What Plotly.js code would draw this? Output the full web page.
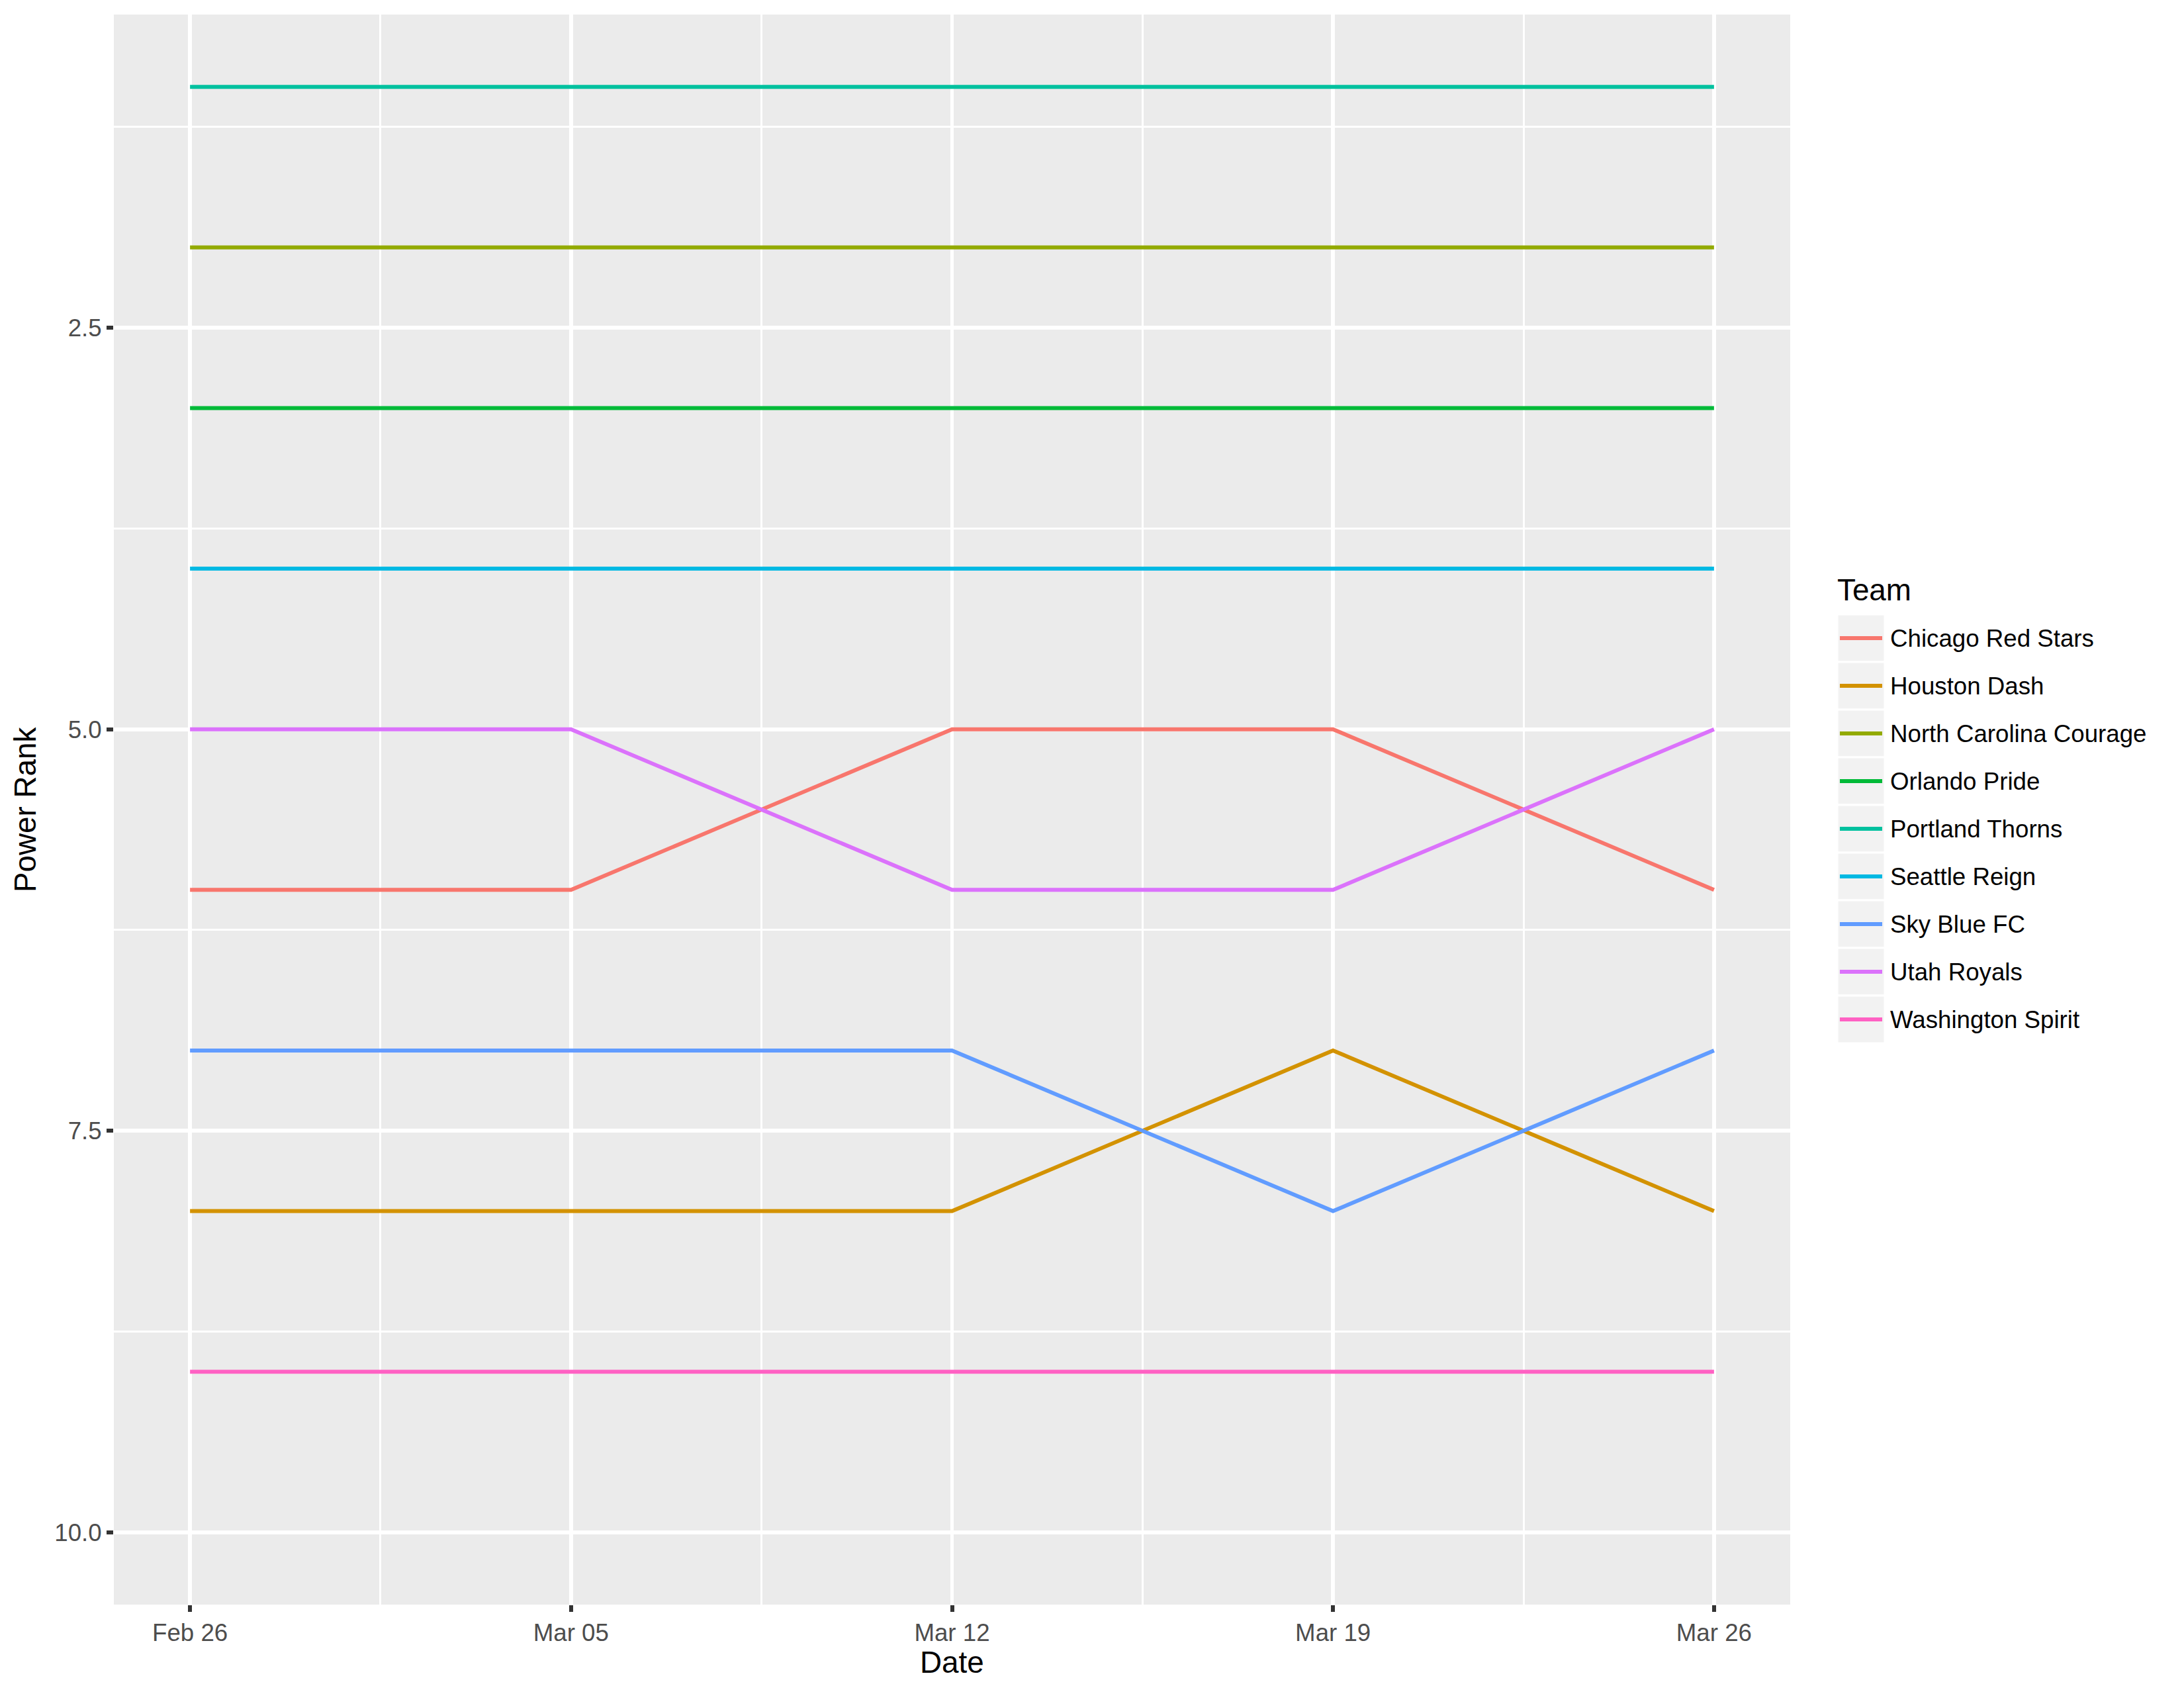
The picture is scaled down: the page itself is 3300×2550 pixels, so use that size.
<!DOCTYPE html>
<html>
<head>
<meta charset="utf-8">
<script src="https://cdn.plot.ly/plotly-3.0.1.min.js"></script>
<style>html,body{margin:0;padding:0;background:#fff;}</style>
</head>
<body>
<div id="chart" style="width:3300px;height:2550px;"></div>
<script>
// ---- data ----
const dates = ['2018-02-26', '2018-03-05', '2018-03-12', '2018-03-19', '2018-03-26'];
const dateLabels = ['Feb 26', 'Mar 05', 'Mar 12', 'Mar 19', 'Mar 26'];
const teams = ['Chicago Red Stars', 'Houston Dash', 'North Carolina Courage', 'Orlando Pride',
               'Portland Thorns', 'Seattle Reign', 'Sky Blue FC', 'Utah Royals', 'Washington Spirit'];
const chicago    = [6, 6, 5, 5, 6];
const houston    = [8, 8, 8, 7, 8];
const ncCourage  = [2, 2, 2, 2, 2];
const orlando    = [3, 3, 3, 3, 3];
const portland   = [1, 1, 1, 1, 1];
const seattle    = [4, 4, 4, 4, 4];
const skyBlue    = [7, 7, 7, 8, 7];
const utah       = [5, 5, 6, 6, 5];
const washington = [9, 9, 9, 9, 9];
const yTickVals  = [2.5, 5, 7.5, 10];
const yTickText  = ['2.5', '5.0', '7.5', '10.0'];
const colors = ['#F8766D', '#D39200', '#93AA00', '#00BA38', '#00C19F', '#00B9E3', '#619CFF', '#DB72FB', '#FF61C3'];

const seriesList = [chicago, houston, ncCourage, orlando, portland, seattle, skyBlue, utah, washington];

// ---- geometry ----
const W = 3300, H = 2550;
const L = 172, R = 595, T = 22, B = 126;
const PW = W - L - R, PH = H - T - B;
const px = x => (x - L) / PW;
const py = y => 1 - (y - T) / PH;

const FONT = 'Liberation Sans, Arial, Helvetica, sans-serif';
const LW = 5.9;

const traces = seriesList.map((ys, i) => ({
  type: 'scatter', mode: 'lines', x: dates, y: ys, name: teams[i],
  line: {color: colors[i], width: LW}, showlegend: false
}));

// minor gridline positions: midpoints between weekly ticks / y ticks
const xMinor = [];
for (let i = 0; i < dates.length - 1; i++) {
  const a = new Date(dates[i] + 'T00:00:00Z').getTime();
  const b = new Date(dates[i + 1] + 'T00:00:00Z').getTime();
  xMinor.push(new Date((a + b) / 2).toISOString().replace('T', ' ').slice(0, 19));
}
const yMinor = [];
yMinor.push(yTickVals[0] - (yTickVals[1] - yTickVals[0]) / 2);
for (let i = 0; i < yTickVals.length - 1; i++) yMinor.push((yTickVals[i] + yTickVals[i + 1]) / 2);

// x range: 5% expansion
const t0 = new Date(dates[0] + 'T00:00:00Z').getTime();
const t1 = new Date(dates[dates.length - 1] + 'T00:00:00Z').getTime();
const ex = (t1 - t0) * 0.05;
const fmt = t => new Date(t).toISOString().replace('T', ' ').slice(0, 19);

// ---- manual legend ----
const shapes = [];
const annotations = [];
const legLeft = 2776, keyW = 72, keyH = 72, legTop = 928;
annotations.push({
  xref: 'paper', yref: 'paper', x: px(legLeft - 2), y: py(892), text: 'Team',
  showarrow: false, xanchor: 'left', yanchor: 'middle',
  font: {family: FONT, size: 45.8, color: '#000000'}
});
teams.forEach((name, i) => {
  const top = legTop + i * keyH;
  shapes.push({
    type: 'rect', xref: 'paper', yref: 'paper',
    x0: px(legLeft), x1: px(legLeft + keyW), y0: py(top), y1: py(top + keyH),
    fillcolor: '#F2F2F2', line: {color: '#FFFFFF', width: 3}
  });
  shapes.push({
    type: 'line', xref: 'paper', yref: 'paper',
    x0: px(legLeft + 4), x1: px(legLeft + keyW - 4), y0: py(top + keyH / 2), y1: py(top + keyH / 2),
    line: {color: colors[i], width: LW}
  });
  annotations.push({
    xref: 'paper', yref: 'paper', x: px(legLeft + keyW + 6), y: py(top + keyH / 2), text: name,
    showarrow: false, xanchor: 'left', yanchor: 'middle',
    font: {family: FONT, size: 36.7, color: '#000000'}
  });
});
// axis titles
annotations.push({
  xref: 'paper', yref: 'paper', x: 0.5, y: py(2511), text: 'Date',
  showarrow: false, xanchor: 'center', yanchor: 'middle',
  font: {family: FONT, size: 45.8, color: '#000000'}
});
annotations.push({
  xref: 'paper', yref: 'paper', x: px(38), y: 0.5, text: 'Power Rank', textangle: -90,
  showarrow: false, xanchor: 'center', yanchor: 'middle',
  font: {family: FONT, size: 45.8, color: '#000000'}
});

const layout = {
  width: W, height: H,
  margin: {l: L, r: R, t: T, b: B, pad: 0},
  paper_bgcolor: '#FFFFFF', plot_bgcolor: '#EBEBEB',
  showlegend: false,
  font: {family: FONT},
  xaxis: {
    type: 'date', range: [fmt(t0 - ex), fmt(t1 + ex)],
    tickmode: 'array', tickvals: dates, ticktext: dateLabels,
    showgrid: true, gridcolor: '#FFFFFF', gridwidth: LW,
    zeroline: false, showline: false,
    ticks: 'outside', ticklen: 10, tickwidth: 6, tickcolor: '#333333',
    tickfont: {family: FONT, size: 36.7, color: '#4D4D4D'},
    minor: {tickmode: 'array', tickvals: xMinor, showgrid: true, gridcolor: '#FFFFFF', gridwidth: 3, ticklen: 0},
    layer: 'below traces', fixedrange: true
  },
  yaxis: {
    range: [10.45, 0.55],
    tickmode: 'array', tickvals: yTickVals, ticktext: yTickText,
    showgrid: true, gridcolor: '#FFFFFF', gridwidth: LW,
    zeroline: false, showline: false,
    ticks: 'outside', ticklen: 10, tickwidth: 6, tickcolor: '#333333',
    tickfont: {family: FONT, size: 36.7, color: '#4D4D4D'},
    minor: {tickmode: 'array', tickvals: yMinor, showgrid: true, gridcolor: '#FFFFFF', gridwidth: 3, ticklen: 0},
    layer: 'below traces', fixedrange: true
  },
  shapes: shapes,
  annotations: annotations
};

Plotly.newPlot('chart', traces, layout, {staticPlot: true, displayModeBar: false});
</script>
</body>
</html>
